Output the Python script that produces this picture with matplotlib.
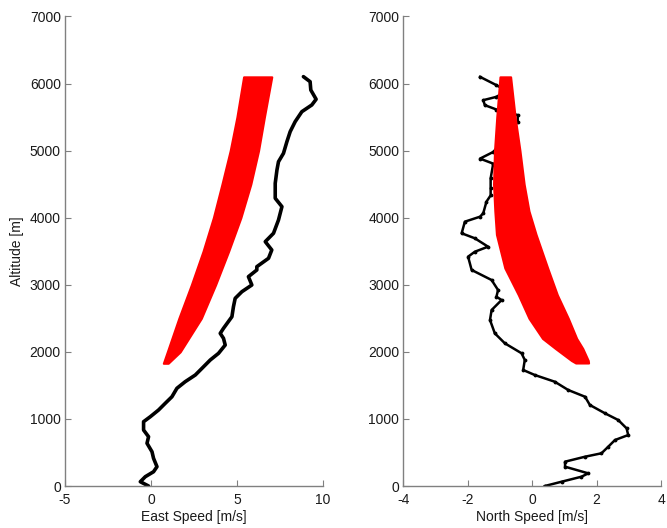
import matplotlib
matplotlib.use("Agg")
import matplotlib.pyplot as plt

plt.rcParams['font.family'] = ['Liberation Sans', 'DejaVu Sans']
plt.rcParams['axes.unicode_minus'] = False

# ---- measured profile (black) ----
east_alt = [0, 64, 139, 213, 288, 413, 511, 637, 735, 835, 959, 1033, 1133, 1233,
            1331, 1457, 1555, 1655, 1755, 1879, 1978, 2102, 2202, 2276, 2351, 2524,
            2674, 2798, 2897, 2997, 3121, 3221, 3270, 3395, 3519, 3643, 3768, 3966,
            4165, 4290, 4513, 4711, 4835, 4960, 5134, 5283, 5432, 5581, 5681, 5766,
            5904, 6028, 6103]
east_speed = [-0.14, -0.62, -0.33, 0.15, 0.35, 0.15, 0.06, -0.23, -0.14, -0.43, -0.43,
              -0.04, 0.44, 0.83, 1.22, 1.51, 1.99, 2.58, 2.97, 3.45, 3.93, 4.32, 4.22,
              4.03, 4.22, 4.71, 4.80, 4.90, 5.29, 5.87, 5.67, 6.16, 6.16, 6.84, 7.03,
              6.65, 7.13, 7.42, 7.62, 7.23, 7.23, 7.33, 7.42, 7.71, 7.91, 8.10, 8.39,
              8.78, 9.36, 9.61, 9.30, 9.26, 8.87]

north_alt = [0, 64, 139, 189, 288, 363, 437, 488, 586, 686, 760, 860, 984, 1084, 1208,
             1331, 1431, 1555, 1655, 1730, 1879, 1979, 2128, 2276, 2475, 2624, 2773,
             2822, 2922, 3071, 3221, 3419, 3493, 3568, 3693, 3768, 3941, 4015, 4066,
             4239, 4333, 4437, 4587, 4806, 4881, 4980, 5200, 5430, 5530, 5613, 5678,
             5752, 5802, 5890, 5976, 6100]
north_speed = [0.39, 0.91, 1.53, 1.74, 1.02, 1.02, 1.64, 2.15, 2.36, 2.57, 2.98, 2.93,
               2.67, 2.26, 1.79, 1.64, 1.12, 0.70, 0.08, -0.28, -0.23, -0.33, -0.85,
               -1.16, -1.31, -1.26, -0.95, -1.11, -1.06, -1.26, -1.88, -1.99, -1.78,
               -1.37, -1.78, -2.19, -2.09, -1.62, -1.52, -1.42, -1.29, -1.29, -1.29,
               -1.21, -1.62, -1.21, -0.80, -0.45, -0.45, -1.11, -1.47, -1.52, -1.11,
               -0.80, -1.11, -1.62]

# ---- model ensemble envelope (red) ----
east_cloud_alt = [1830, 2000, 2500, 3000, 3500, 4000, 4500, 5000, 5500, 6100]
east_cloud_lo = [0.72, 0.95, 1.62, 2.35, 3.03, 3.63, 4.13, 4.61, 5.00, 5.39]
east_cloud_hi = [1.00, 1.70, 2.93, 3.76, 4.52, 5.23, 5.81, 6.26, 6.60, 7.03]

north_cloud_alt = [1834, 1870, 2050, 2200, 2500, 2850, 3250, 3750, 4100, 4500, 5000, 5500, 6100]
north_cloud_lo = [1.35, 1.22, 0.72, 0.32, -0.10, -0.43, -0.85, -1.11, -1.16, -1.20, -1.17, -1.10, -1.00]
north_cloud_hi = [1.75, 1.74, 1.57, 1.38, 1.12, 0.78, 0.48, 0.12, -0.10, -0.25, -0.38, -0.53, -0.67]

x_ticks_east = [-5, 0, 5, 10]
x_ticks_north = [-4, -2, 0, 2, 4]
y_ticks = [0, 1000, 2000, 3000, 4000, 5000, 6000, 7000]

fig = plt.figure(figsize=(6.67, 5.28), dpi=100)
ax1 = fig.add_axes([0.0975, 0.0795, 0.3865, 0.8893])
ax2 = fig.add_axes([0.6047, 0.0795, 0.3864, 0.8893])

RED = '#ff0000'
AXC = '#808080'
TXT = '#1a1a1a'


def style(ax, xt, xl):
    for s in ['top', 'right']:
        ax.spines[s].set_visible(False)
    for s in ['left', 'bottom']:
        ax.spines[s].set_color(AXC)
        ax.spines[s].set_linewidth(1.0)
    ax.set_xlim(xt[0], xt[-1])
    ax.set_ylim(0, 7000)
    ax.set_xticks(xt)
    ax.set_yticks(y_ticks)
    ax.tick_params(direction='in', length=4, color=AXC, labelsize=10,
                   labelcolor=TXT)
    ax.tick_params(axis='x', pad=5)
    ax.tick_params(axis='y', pad=3)
    ax.set_xlabel(xl, fontsize=10, color=TXT, labelpad=2)


# Left panel
ax1.plot(east_speed, east_alt, color='black', lw=2.6, solid_joinstyle='round',
         solid_capstyle='round', zorder=2)
ax1.fill_betweenx(east_cloud_alt, east_cloud_lo, east_cloud_hi, color=RED,
                  edgecolor=RED, lw=1.5, zorder=3)
style(ax1, x_ticks_east, 'East Speed [m/s]')
ax1.set_ylabel('Altitude [m]', fontsize=10, color=TXT, labelpad=4)

# Right panel
ax2.plot(north_speed, north_alt, color='black', lw=1.8, solid_joinstyle='round',
         marker='.', ms=3.5, zorder=2)
ax2.fill_betweenx(north_cloud_alt, north_cloud_lo, north_cloud_hi, color=RED,
                  edgecolor=RED, lw=1.5, zorder=3)
style(ax2, x_ticks_north, 'North Speed [m/s]')

fig.savefig('out.png', dpi=100)
